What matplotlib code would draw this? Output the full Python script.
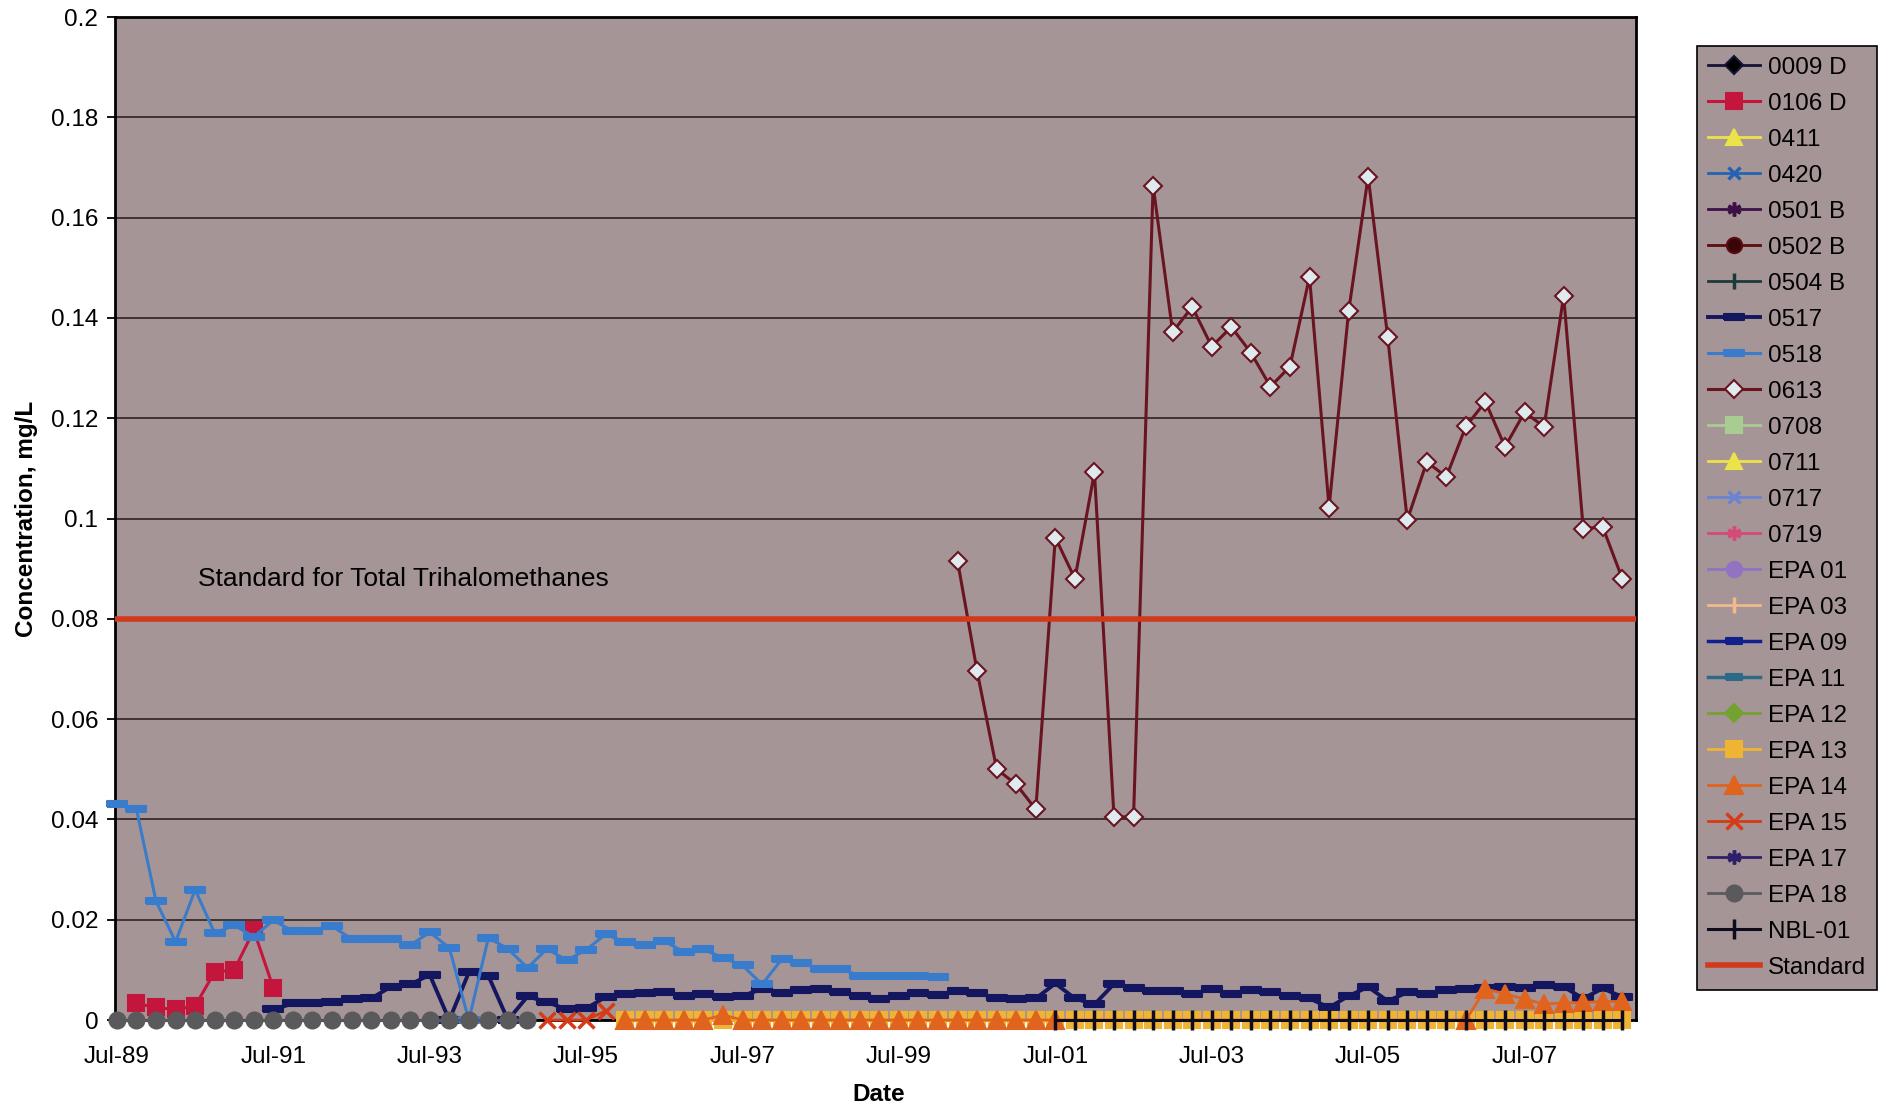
import matplotlib
matplotlib.use("Agg")
import matplotlib.pyplot as plt

plt.rcParams['font.family'] = ['Liberation Sans', 'DejaVu Sans']

# x axis = quarters counted from Jul-89
tick_pos = [0, 8, 16, 24, 32, 40, 48, 56, 64, 72]
tick_labels = ['Jul-89', 'Jul-91', 'Jul-93', 'Jul-95', 'Jul-97',
               'Jul-99', 'Jul-01', 'Jul-03', 'Jul-05', 'Jul-07']
y_ticks = [0, 0.02, 0.04, 0.06, 0.08, 0.1, 0.12, 0.14, 0.16, 0.18, 0.2]
y_tick_labels = ['0', '0.02', '0.04', '0.06', '0.08', '0.1', '0.12',
                 '0.14', '0.16', '0.18', '0.2']

x_0106 = list(range(1, 9))
y_0106 = [0.0033, 0.0025, 0.0021, 0.0028, 0.0096, 0.0100, 0.0179, 0.0064]

x_0420 = [43, 44, 45, 46]
y_0420 = [0, 0, 0, 0]

x_0517 = list(range(8, 78))
y_0517 = [0.0021, 0.0033, 0.0033, 0.0036, 0.0042, 0.0043, 0.0066, 0.0071,
          0.0090, 0.0, 0.0095, 0.0088, 0.0, 0.0047, 0.0036, 0.0021,
          0.0023, 0.0046, 0.0052, 0.0054, 0.0056, 0.0047, 0.0052, 0.0046,
          0.0048, 0.0062, 0.0054, 0.0060, 0.0062, 0.0055, 0.0047, 0.0041,
          0.0047, 0.0054, 0.0049, 0.0058, 0.0054, 0.0043, 0.0042, 0.0043,
          0.0073, 0.0043, 0.0031, 0.0072, 0.0064, 0.0057, 0.0058, 0.0052,
          0.0062, 0.0052, 0.0060, 0.0056, 0.0048, 0.0043, 0.0025, 0.0048,
          0.0066, 0.0038, 0.0055, 0.0052, 0.0060, 0.0062, 0.0064, 0.0066,
          0.0064, 0.0070, 0.0066, 0.0043, 0.0063, 0.0046]

x_0518 = list(range(0, 43))
y_0518 = [0.0430, 0.0420, 0.0237, 0.0156, 0.0260, 0.0173, 0.0189, 0.0166,
          0.0199, 0.0177, 0.0177, 0.0187, 0.0162, 0.0162, 0.0162, 0.0149,
          0.0175, 0.0144, 0.0, 0.0164, 0.0142, 0.0104, 0.0142, 0.0119,
          0.0140, 0.0171, 0.0155, 0.0149, 0.0157, 0.0136, 0.0141, 0.0124,
          0.0109, 0.0071, 0.0121, 0.0114, 0.0101, 0.0102, 0.0088, 0.0088,
          0.0088, 0.0088, 0.0085]

x_0613 = list(range(43, 78))
y_0613 = [0.0915, 0.0695, 0.0500, 0.0470, 0.0420, 0.0962, 0.0880, 0.1092,
          0.0405, 0.0405, 0.1664, 0.1372, 0.1422, 0.1343, 0.1382, 0.1331,
          0.1263, 0.1303, 0.1482, 0.1022, 0.1413, 0.1682, 0.1362, 0.0997,
          0.1113, 0.1083, 0.1184, 0.1233, 0.1143, 0.1212, 0.1183, 0.1444,
          0.0980, 0.0983, 0.0880]

x_epa13 = list(range(26, 78))
y_epa13 = [0] * 52

x_epa14 = list(range(26, 49)) + list(range(69, 78))
y_epa14 = [0, 0, 0, 0, 0, 0.001, 0, 0, 0, 0, 0, 0, 0, 0, 0, 0, 0, 0, 0, 0,
           0, 0, 0,
           0.0, 0.0062, 0.0052, 0.0042, 0.0032, 0.0034, 0.0035, 0.0037, 0.0037]

x_epa15 = [22, 23, 24, 25]
y_epa15 = [0, 0, 0, 0.0018]

x_epa18 = list(range(0, 22))
y_epa18 = [0] * 22

x_nbl01 = list(range(48, 78))
y_nbl01 = [0] * 30

standard_value = 0.08

bg = '#a69596'
dash = [(-1, -0.32), (1, -0.32), (1, 0.32), (-1, 0.32), (-1, -0.32)]
star = (6, 2, 0)

# name, x, y, colour, marker, markersize, marker face, linewidth
series = [
    ('0009 D', [], [], '#141438', 'D', 9, '#000000', 2),
    ('0106 D', x_0106, y_0106, '#c4163c', 's', 12, '#c4163c', 2.2),
    ('0411', [], [], '#ece24a', '^', 11, '#ece24a', 2),
    ('0420', x_0420, y_0420, '#2463b4', 'x', 9, '#2463b4', 2),
    ('0501 B', [], [], '#3e1048', star, 10, '#3e1048', 2),
    ('0502 B', [], [], '#5a0c12', 'o', 11, '#3a0508', 2),
    ('0504 B', [], [], '#1c3a3c', '|', 12, '#1c3a3c', 2),
    ('0517', x_0517, y_0517, '#141660', dash, 14, '#141660', 2.8),
    ('0518', x_0518, y_0518, '#3a7ccc', dash, 14, '#3a7ccc', 2.2),
    ('0613', x_0613, y_0613, '#6a1422', 'D', 9, '#dfeaee', 2.2),
    ('0708', [], [], '#a8cc92', 's', 12, '#a8cc92', 2),
    ('0711', [], [], '#ece24a', '^', 11, '#ece24a', 2),
    ('0717', [], [], '#6a84d2', 'x', 9, '#6a84d2', 2),
    ('0719', [], [], '#d44a78', star, 10, '#d44a78', 2),
    ('EPA 01', [], [], '#9272c2', 'o', 11, '#9272c2', 2),
    ('EPA 03', [], [], '#f0ba8c', '|', 12, '#f0ba8c', 2),
    ('EPA 09', [], [], '#10208c', dash, 12, '#10208c', 2.5),
    ('EPA 11', [], [], '#2c6a88', dash, 12, '#2c6a88', 2.5),
    ('EPA 12', [], [], '#74a232', 'D', 9, '#74a232', 2),
    ('EPA 13', x_epa13, y_epa13, '#f0b434', 's', 11.5, '#f0b434', 2),
    ('EPA 14', x_epa14, y_epa14, '#e0641e', '^', 13, '#e0641e', 2),
    ('EPA 15', x_epa15, y_epa15, '#d63a16', 'x', 11, '#d63a16', 2),
    ('EPA 17', [], [], '#2e2068', star, 10, '#2e2068', 2),
    ('EPA 18', x_epa18, y_epa18, '#5a5a5c', 'o', 11.5, '#5a5a5c', 2),
    ('NBL-01', x_nbl01, y_nbl01, '#0c0c1e', '|', 14, '#0c0c1e', 2.2),
]

fig = plt.figure(figsize=(18.85, 11.08), dpi=100)
ax = fig.add_axes([0.061, 0.0794, 0.8069, 0.9052])
ax.set_facecolor(bg)

for k, (name, xs, ys, col, mk, ms, mfc, lw) in enumerate(series):
    mew = 2.5 if mk in ('x', '|', star) else 1.5
    ax.plot(xs, ys, color=col, lw=lw, marker=mk, markersize=ms,
            markerfacecolor=mfc, markeredgecolor=col, markeredgewidth=mew,
            label=name, clip_on=False, zorder=3 + k * 0.01)

ax.axhline(standard_value, color='#d0391c', lw=4, label='Standard', zorder=4)

ax.text(4.15, 0.088, 'Standard for Total Trihalomethanes', fontsize=19,
        ha='left', va='center')

ax.set_xlim(-0.1, 77.7)
ax.set_ylim(0, 0.2)
ax.set_xticks(tick_pos)
ax.set_xticklabels(tick_labels)
ax.set_yticks(y_ticks)
ax.set_yticklabels(y_tick_labels)
ax.tick_params(axis='x', length=0, pad=18.5, labelsize=17.5)
ax.tick_params(axis='y', length=6, width=1.3, direction='out', pad=6,
               labelsize=17.5)
ax.grid(axis='y', color='#2e2222', lw=1.2)
ax.set_axisbelow(True)
for s in ax.spines.values():
    s.set_color('black')
    s.set_linewidth(2)

ax.set_xlabel('Date', fontsize=17.5, fontweight='bold', va='center')
ax.xaxis.set_label_coords(0.502, -0.0738)
ax.set_ylabel('Concentration, mg/L', fontsize=17.5, fontweight='bold')
ax.yaxis.set_label_coords(-0.0505, 0.5)

leg = ax.legend(loc='upper left', bbox_to_anchor=(0.9003, 0.9585),
                bbox_transform=fig.transFigure, fontsize=17.5, numpoints=1,
                fancybox=False, frameon=True, borderaxespad=0,
                handlelength=2.15, handletextpad=0.3, labelspacing=0.575,
                borderpad=0.45)
leg.get_frame().set_facecolor(bg)
leg.get_frame().set_edgecolor('black')
leg.get_frame().set_linewidth(1.2)
leg.get_frame().set_alpha(1)

fig.savefig('out.png', dpi=100)
